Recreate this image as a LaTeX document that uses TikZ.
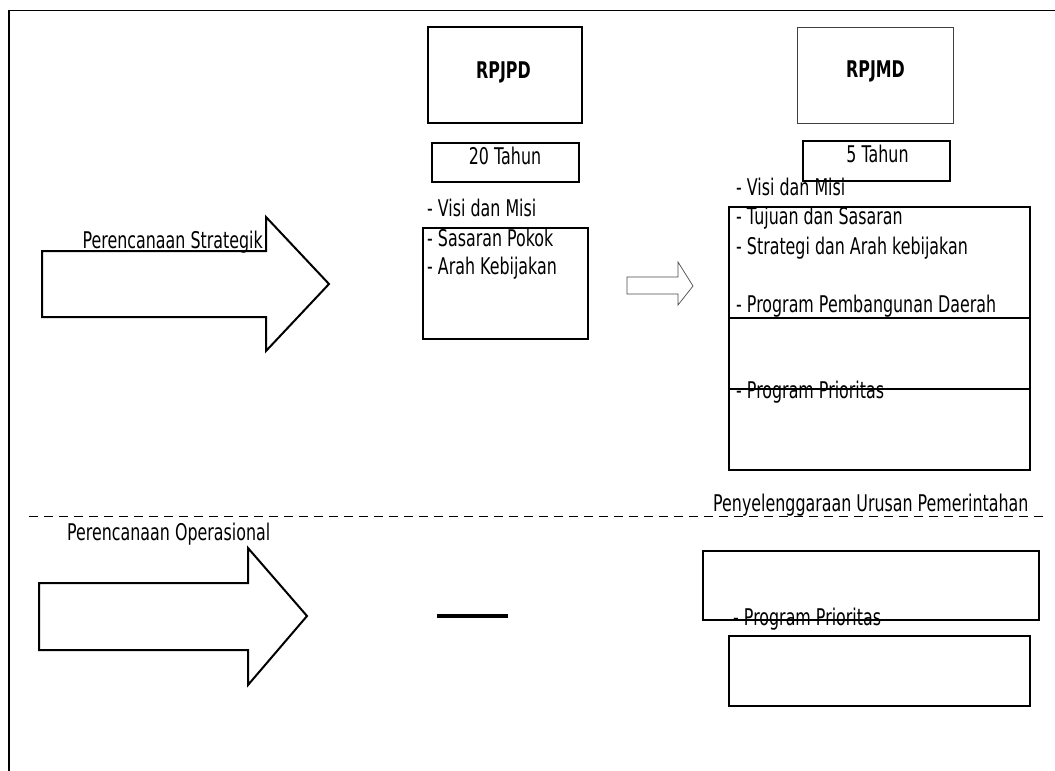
\documentclass[tikz,border=0pt]{standalone}
\usepackage{fontspec}
\newfontfamily\tf{DejaVu Sans}[FakeStretch=0.69]
\begin{document}
\begin{tikzpicture}[x=1pt,y=-1pt,
  box/.style={draw, line width=1.3pt, inner sep=0pt, minimum width=#1},
  box/.default=10,
  lbl/.style={inner sep=0pt, anchor=base west, font=\tf\fontsize{23}{29}\selectfont},
  ctr/.style={inner sep=0pt, anchor=base, font=\tf\fontsize{23}{29}\selectfont},
  ttl/.style={inner sep=0pt, anchor=base, font=\tf\bfseries\fontsize{23}{29}\selectfont},
  bigarrow/.style={draw, line width=2pt, line join=miter},
  smallarrow/.style={draw=black!70, line width=0.7pt, line join=miter},
  divider/.style={line width=1pt, dash pattern=on 9pt off 6pt},
]
\useasboundingbox (0,0) rectangle (1055,771);
\fill[white] (0,0) rectangle (1055,771);
% frame
\coordinate (f1) at (9,771);
\coordinate (f2) at (9,10.5);
\coordinate (f3) at (1055,10.5);
\draw[line width=1.5pt] (f1) -- (f2) -- (f3);

% boxes
\node[box=154, minimum height=96, line width=1.5pt] (rpjpd) at (505,75) {};
\node[box=147, minimum height=39, line width=1.5pt] (tahun20) at (505.5,162.5) {};
\node[box=165, minimum height=111, line width=1.8pt] (leftbox) at (505.5,283.5) {};
\node[box=156, minimum height=96, line width=1pt, draw=black!75] (rpjmd) at (875,75) {};
\node[box=147, minimum height=40, line width=1.3pt] (tahun5) at (876.5,161) {};
\node[box=301, minimum height=263, line width=1.2pt] (rightbox) at (879.5,338.5) {};
\coordinate (l1) at (0,318);
\coordinate (l2) at (0,389);
\draw[line width=1.2pt] (rightbox.west |- l1) -- (rightbox.east |- l1);
\draw[line width=1.2pt] (rightbox.west |- l2) -- (rightbox.east |- l2);
\node[box=336, minimum height=69, line width=1.2pt] (boxA) at (871,585.5) {};
\node[box=301, minimum height=70, line width=1.8pt] (boxB) at (879.5,671) {};

% titles
\node[ttl] (t1) at (503.5,78) {RPJPD};
\node[ttl] (t2) at (875.5,77.5) {RPJMD};
\node[ctr] (y20) at (505,164.5) {20 Tahun};
\node[ctr] (y5) at (877.5,162) {5 Tahun};

% left list
\node[lbl] (a1) at (427,216) {- Visi dan Misi};
\node[lbl] (a2) at (427,246) {- Sasaran Pokok};
\node[lbl] (a3) at (427,274) {- Arah Kebijakan};

% right list
\node[lbl] (b1) at (736,195) {- Visi dan Misi};
\node[lbl] (b2) at (736,224) {- Tujuan dan Sasaran};
\node[lbl] (b3) at (736,254) {- Strategi dan Arah kebijakan};
\node[lbl] (b4) at (736,312.3) {- Program Pembangunan Daerah};
\node[lbl] (b5) at (736,398) {- Program Prioritas};

% big arrows
\draw[bigarrow] (42,251) -- (266,251) -- (266,217) -- (329,284) -- (266,351) -- (266,317) -- (42,317) -- cycle;
\node[lbl] (ps) at (82.5,248.5) {Perencanaan Strategik};
\draw[bigarrow] (39,583) -- (248,583) -- (248,548) -- (307,616) -- (248,685) -- (248,650) -- (39,650) -- cycle;
\node[lbl] (po) at (67,540) {Perencanaan Operasional};

% small arrow
\draw[smallarrow] (627,277) -- (678,277) -- (678,262) -- (693,286) -- (678,305) -- (678,294) -- (627,294) -- cycle;

% divider
\coordinate (d1) at (29,516.7);
\coordinate (d2) at (1043,516.7);
\draw[divider] (d1) -- (d2);
\node[lbl] (pu) at (713,511.5) {Penyelenggaraan Urusan Pemerintahan};

% thick bar
\coordinate (m1) at (437,616);
\coordinate (m2) at (508,616);
\draw[line width=4.5pt] (m1) -- (m2);

% lower label
\node[lbl] (c1) at (733,625.5) {- Program Prioritas};
\end{tikzpicture}
\end{document}
